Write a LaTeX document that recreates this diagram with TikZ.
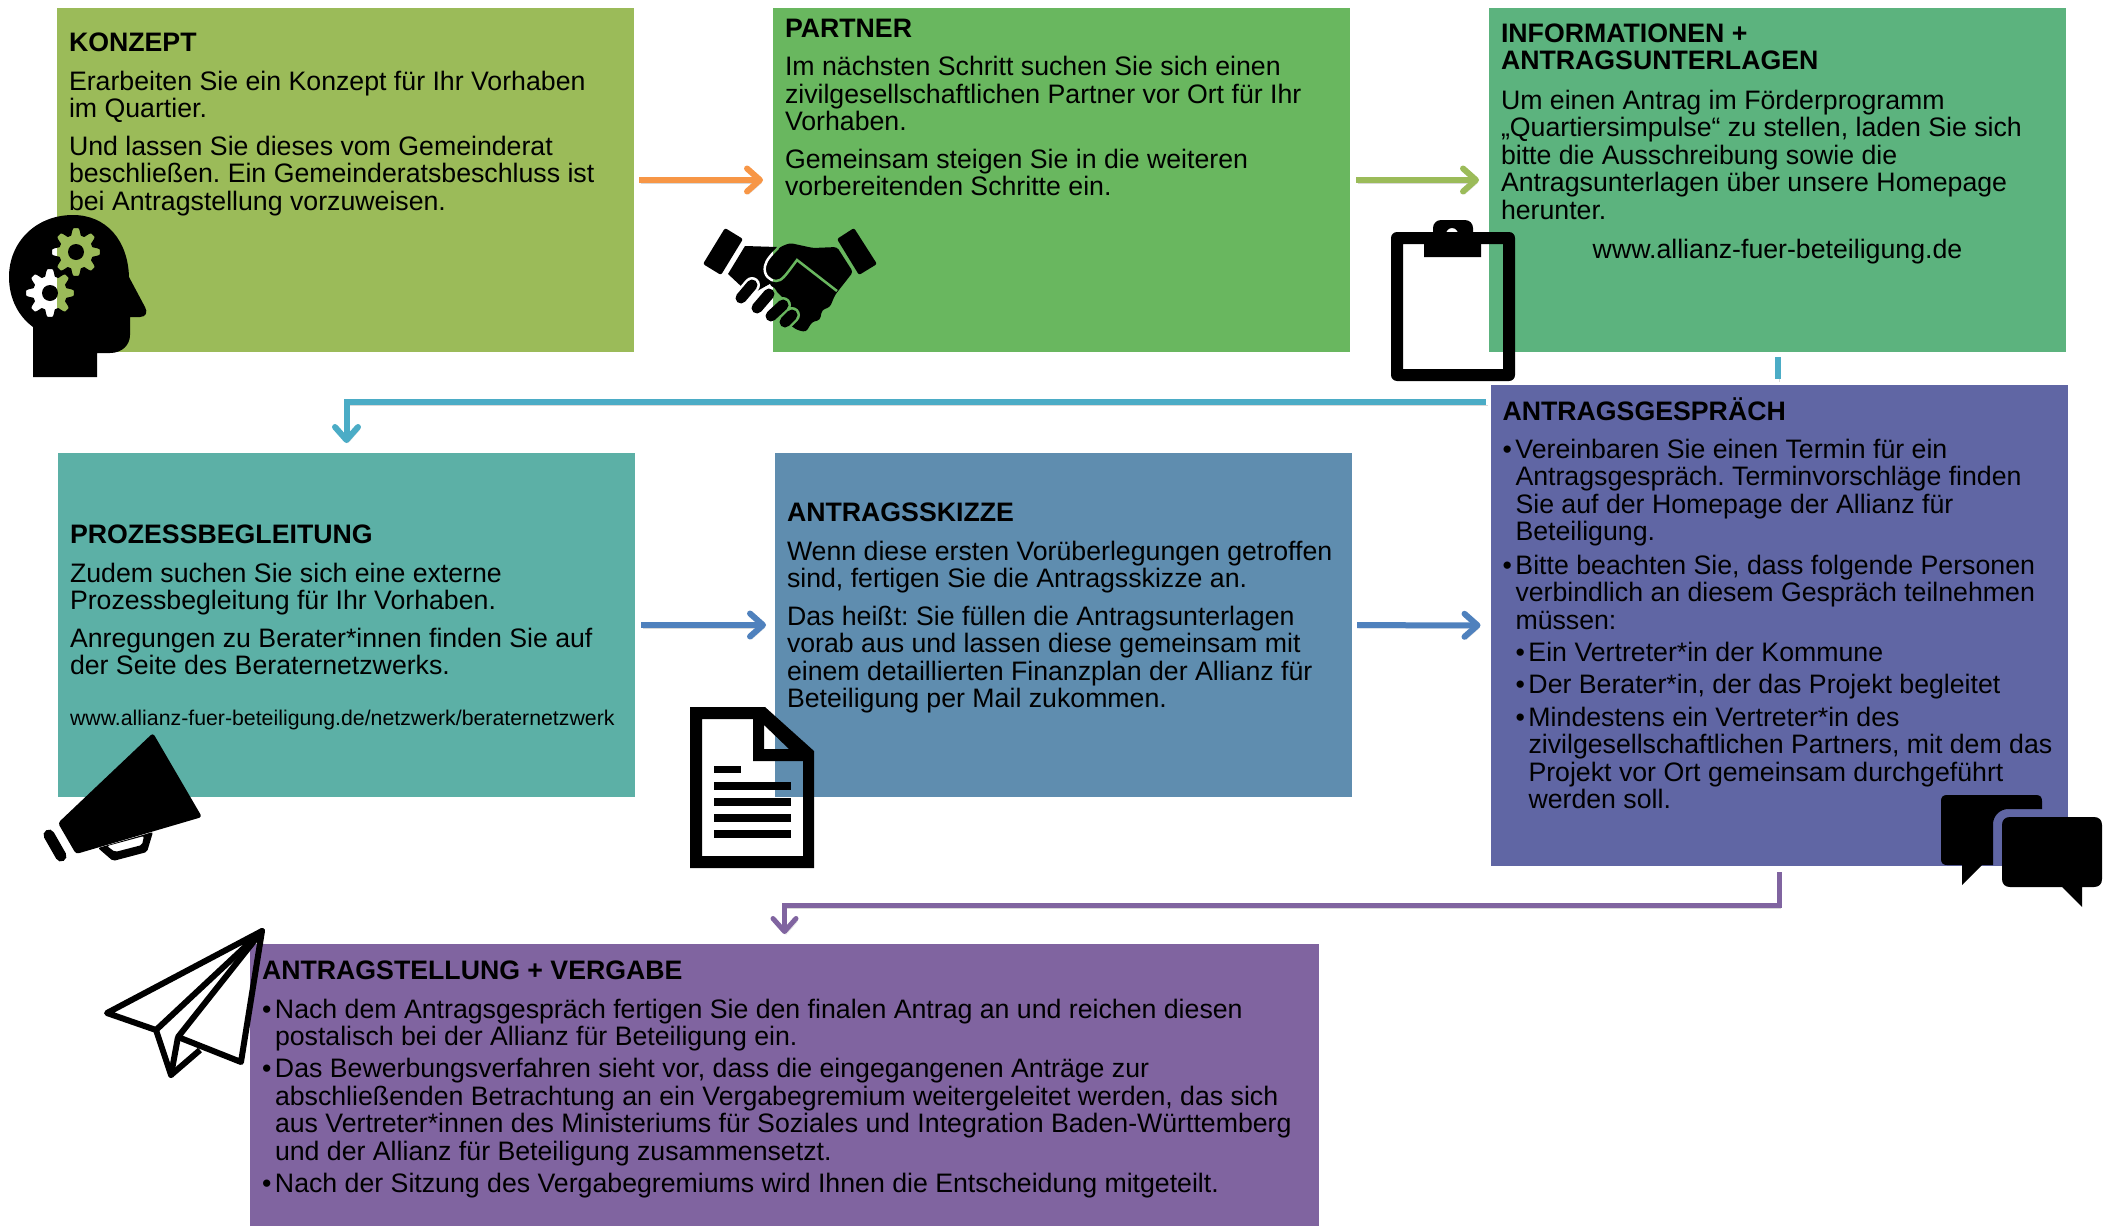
\documentclass[tikz,border=0pt]{standalone}
\usepackage{fontspec}
\setmainfont{Liberation Sans}
\usetikzlibrary{positioning, arrows.meta}
\definecolor{konzeptc}{HTML}{9BBB59}
\definecolor{partnerc}{HTML}{69B75F}
\definecolor{infoc}{HTML}{5CB37E}
\definecolor{prozessc}{HTML}{5CB0A6}
\definecolor{skizzec}{HTML}{5F8DAF}
\definecolor{gespraechc}{HTML}{6066A4}
\definecolor{antragc}{HTML}{8064A0}
\definecolor{orangeflow}{HTML}{F79646}
\definecolor{blueflow}{HTML}{4F81BD}
\definecolor{tealflow}{HTML}{4BACC6}
\newcommand{\bul}{\makebox[13pt][l]{•}}
\newcommand{\ind}{\hspace*{13pt}}
\newcommand{\shakegap}{(778,248) .. controls (772,254) and (766,260) .. (765,266) .. controls (763,275) and (770,281) .. (776,281) .. controls (782,281) and (785,276) .. (797,260) -- (837,291)}
\tikzset{>={Straight Barb[length=13pt, width=23pt, round]},
    box/.style={rectangle, minimum width=577pt, minimum height=344pt, inner sep=0pt, outer sep=0pt},
    bodytext/.style={align=left, inner sep=0pt, outer sep=0pt, font=\fontsize{26.7}{27.5}\selectfont\frenchspacing},
    flow/.style={->, line width=6pt, preaction={draw=black!60, opacity=.25, transform canvas={xshift=1.5pt, yshift=-3pt}}},
    gearcut/.style={domain=0:360, samples=145, variable=\t},
    fingerline/.style={line width=11pt, line cap=round},
}

\begin{document}
\begin{tikzpicture}[x=1pt, y=-1pt]
        \useasboundingbox (0,0) rectangle (2111,1226);

        \node[box, fill=konzeptc] (konzept) at (345.5,180) {};
        \node[box, fill=partnerc, right=139pt of konzept] (partner) {};
        \node[box, fill=infoc, right=139pt of partner] (info) {};
        \node[box, fill=prozessc, below=101pt of konzept, xshift=1pt] (prozess) {};
        \node[box, fill=skizzec, right=140pt of prozess] (skizze) {};
        \node[box, fill=gespraechc, minimum height=481pt, below=33pt of info, xshift=1.5pt] (gespraech) {};
        \node[box, fill=antragc, minimum width=1069pt, minimum height=282pt] (antrag) at (784.5,1085) {};

        \node[bodytext, below right=25pt and 12pt of konzept.north west] (konzepttext) {\textbf{KONZEPT}\\[11pt]
            Erarbeiten Sie ein Konzept für Ihr Vorhaben\\
            im Quartier.\\[10pt]
            Und lassen Sie dieses vom Gemeinderat\\
            beschließen. Ein Gemeinderatsbeschluss ist\\
            bei Antragstellung vorzuweisen.};
        \node[bodytext, below right=11pt and 12pt of partner.north west] (partnertext) {\textbf{PARTNER}\\[11pt]
            Im nächsten Schritt suchen Sie sich einen\\
            zivilgesellschaftlichen Partner vor Ort für Ihr\\
            Vorhaben.\\[10pt]
            Gemeinsam steigen Sie in die weiteren\\
            vorbereitenden Schritte ein.};
        \node[bodytext, below right=15.5pt and 12pt of info.north west] (infotext) {\textbf{INFORMATIONEN +}\\
            \textbf{ANTRAGSUNTERLAGEN}\\[12pt]
            Um einen Antrag im Förderprogramm\\
            „Quartiersimpulse“ zu stellen, laden Sie sich\\
            bitte die Ausschreibung sowie die\\
            Antragsunterlagen über unsere Homepage\\
            herunter.};
        \node[bodytext, below=20pt of infotext.south -| info] (infolink) {www.allianz-fuer-beteiligung.de};

        \node[bodytext, below right=72pt and 12pt of prozess.north west] (prozesstext) {\textbf{PROZESSBEGLEITUNG}\\[11pt]
            Zudem suchen Sie sich eine externe\\
            Prozessbegleitung für Ihr Vorhaben.\\[10pt]
            Anregungen zu Berater*innen finden Sie auf\\
            der Seite des Beraternetzwerks.};
        \node[bodytext, below right=35.5pt and 0pt of prozesstext.south west, font=\fontsize{21.3}{25}\selectfont] (prozesslink) {www.allianz-fuer-beteiligung.de/netzwerk/beraternetzwerk};
        \node[bodytext, below right=50pt and 12pt of skizze.north west] (skizzetext) {\textbf{ANTRAGSSKIZZE}\\[11pt]
            Wenn diese ersten Vorüberlegungen getroffen\\
            sind, fertigen Sie die Antragsskizze an.\\[10pt]
            Das heißt: Sie füllen die Antragsunterlagen\\
            vorab aus und lassen diese gemeinsam mit\\
            einem detaillierten Finanzplan der Allianz für\\
            Beteiligung per Mail zukommen.};
        \node[bodytext, below right=13pt and 12pt of gespraech.north west] (gespraechtext) {\textbf{ANTRAGSGESPRÄCH}\\[10pt]
            \bul Vereinbaren Sie einen Termin für ein\\
            \ind Antragsgespräch. Terminvorschläge finden\\
            \ind Sie auf der Homepage der Allianz für\\
            \ind Beteiligung.\\[6pt]
            \bul Bitte beachten Sie, dass folgende Personen\\
            \ind verbindlich an diesem Gespräch teilnehmen\\
            \ind müssen:\\[4.5pt]
            \ind\bul Ein Vertreter*in der Kommune\\[5pt]
            \ind\bul Der Berater*in, der das Projekt begleitet\\[5pt]
            \ind\bul Mindestens ein Vertreter*in des\\
            \ind\ind zivilgesellschaftlichen Partners, mit dem das\\
            \ind\ind Projekt vor Ort gemeinsam durchgeführt\\
            \ind\ind werden soll.};
        \node[bodytext, below right=17pt and 12pt of antrag.north west] (antragtext) {\textbf{ANTRAGSTELLUNG + VERGABE}\\[11pt]
            \bul Nach dem Antragsgespräch fertigen Sie den finalen Antrag an und reichen diesen\\
            \ind postalisch bei der Allianz für Beteiligung ein.\\[4.5pt]
            \bul Das Bewerbungsverfahren sieht vor, dass die eingegangenen Anträge zur\\
            \ind abschließenden Betrachtung an ein Vergabegremium weitergeleitet werden, das sich\\
            \ind aus Vertreter*innen des Ministeriums für Soziales und Integration Baden-Württemberg\\
            \ind und der Allianz für Beteiligung zusammensetzt.\\[4.5pt]
            \bul Nach der Sitzung des Vergabegremiums wird Ihnen die Entscheidung mitgeteilt.};

        \coordinate (tealturn) at (1486,402);
        \coordinate (purpleturn) at (1200,905);
        \draw[flow, draw=orangeflow, shorten <=5pt, shorten >=10pt] (konzept) -- (partner);
        \draw[flow, draw=konzeptc, shorten <=6pt, shorten >=10pt] (partner) -- (info);
        \draw[flow, draw=blueflow, shorten <=6pt, shorten >=9pt] (prozess) -- (skizze);
        \draw[flow, draw=blueflow, shorten <=5pt, shorten >=10pt] (skizze) -- (gespraech);
        \draw[flow, -, draw=tealflow, shorten <=5pt, shorten >=6pt] (info.south) -- (gespraech.north -| info.south);
        \draw[flow, draw=tealflow] (tealturn) -| ([yshift=10pt]prozess.north);
        \draw[flow, draw=antragc, line width=5pt, shorten <=6pt] (gespraech.south) |- (purpleturn) -| ([yshift=10pt]antrag.north);

        % kopf
        \fill[even odd rule] (33,377) -- (97,377) -- (97,353) -- (110,353) .. controls (122,353) and (130,345) .. (130,335) -- (130,317) -- (140,317) .. controls (146,317) and (148,312) .. (145,307) -- (129,277) .. controls (128,240) and (106,215) .. (73,215) .. controls (36,215) and (9,242) .. (9,277) .. controls (9,298) and (18,316) .. (33,327) -- cycle
            plot[gearcut] ({76+(20.5+3.5*max(-1,min(1,1.6*cos(8*\t))))*cos(\t)},{252+(20.5+3.5*max(-1,min(1,1.6*cos(8*\t))))*sin(\t)}) -- cycle
            plot[gearcut] ({50+(20.5+3.5*max(-1,min(1,1.6*cos(8*\t))))*cos(\t)},{293+(20.5+3.5*max(-1,min(1,1.6*cos(8*\t))))*sin(\t)}) -- cycle
            (76,252) circle[radius=8pt] (50,293) circle[radius=8pt];

        % haende
        \fill[rounded corners=2pt] (725,228) -- (743,239) -- (721,275) -- (703,264) -- cycle;
        \fill[rounded corners=2pt] (854,228) -- (837,239) -- (859,275) -- (877,264) -- cycle;
        \fill (745,246) -- (777,247) -- (775,281) -- (750,295) -- (743,288) -- (728,274) -- cycle;
        \fill[rounded corners=3pt] (837,247) -- (813,248) -- (790,243) -- (780,247) -- (766,263) -- (770,285) -- (790,305) -- (790,325) -- (797,330) -- (806,332) -- (812,322) -- (820,320) -- (822,310) -- (830,307) -- (835,295) -- (853,272) -- cycle;
        \begin{scope}
            \clip (680,200) rectangle (773,350);
            \draw[white, line width=2.5pt] \shakegap;
            \draw[white, fingerline, line width=16pt] (741,298) -- (752,285) (757,308) -- (769,294);
        \end{scope}
        \begin{scope}
            \clip (773,200) rectangle (900,350);
            \draw[partnerc, line width=2.5pt] \shakegap;
            \draw[partnerc, fingerline, line width=16pt] (757,308) -- (769,294) (771,316) -- (783,305) (785,322) -- (792,315);
        \end{scope}
        \draw[fingerline] (741,298) -- (752,285);
        \draw[fingerline] (757,308) -- (769,294);
        \draw[fingerline] (771,316) -- (783,305);
        \draw[fingerline] (785,322) -- (792,315);

        % klemmbrett
        \fill[rounded corners=6pt, even odd rule] (1391,232) rectangle (1515,381) [sharp corners] (1403,244) rectangle (1503,369);
        \fill[even odd rule] (1424,244) -- (1433,244) -- (1433,230) [rounded corners=8pt] -- (1433,220) -- (1473,220) [sharp corners] -- (1473,244) -- (1481,244) -- (1481,257) -- (1424,257) -- cycle
            (1452,234) circle[radius=6pt];

        % megafon
        \fill[rounded corners=3pt] (153,733) -- (202,817) -- (76,854) -- (58,823) -- cycle;
        \draw[line width=11pt, line cap=round] (49,835) -- (61,856);
        \fill[even odd rule, rounded corners=2pt] (98,848) -- (113,861) -- (147,852) -- (153,832) -- cycle (107,846) -- (115,852) -- (142,845) -- (144,836) -- cycle;

        % dokument
        \fill[even odd rule] (690,707) -- (765,707) -- (814,751) -- (814,868) -- (690,868) -- cycle
            (702,719) -- (753,719) -- (753,761) -- (803,761) -- (803,856) -- (702,856) -- cycle
            (764,725) -- (764,749) -- (789,749) -- cycle;
        \fill (714,766) rectangle (741,773);
        \foreach \ly in {782,798,814,830}
            \fill (714,\ly) rectangle (791,\ly+8);

        % sprechblasen
        \fill (1947,795) -- (2036,795) .. controls (2040,795) and (2042,797) .. (2042,801) -- (2042,809) -- (2008,809) .. controls (2000,809) and (1993,816) .. (1993,824) -- (1993,865) -- (1982,865) -- (1962,885) -- (1962,865) -- (1947,865) .. controls (1943,865) and (1941,863) .. (1941,859) -- (1941,801) .. controls (1941,797) and (1943,795) .. (1947,795) -- cycle;
        \fill (2010,817) -- (2094,817) .. controls (2099,817) and (2102,820) .. (2102,825) -- (2102,879) .. controls (2102,884) and (2099,887) .. (2094,887) -- (2082,887) -- (2082,907) -- (2062,887) -- (2010,887) .. controls (2005,887) and (2002,884) .. (2002,879) -- (2002,825) .. controls (2002,820) and (2005,817) .. (2010,817) -- cycle;

        % flieger
        \draw[line width=6pt, line join=round] (262,931) -- (107,1013) -- (156,1030) -- cycle;
        \draw[line width=6pt, line join=round] (262,931) -- (241,1062) -- (178,1037) -- cycle;
        \draw[line width=6pt, line join=round] (156,1030) -- (171,1075) -- (178,1037);
        \draw[line width=6pt, line join=round] (171,1075) -- (200,1050);
    \end{tikzpicture}
\end{document}
